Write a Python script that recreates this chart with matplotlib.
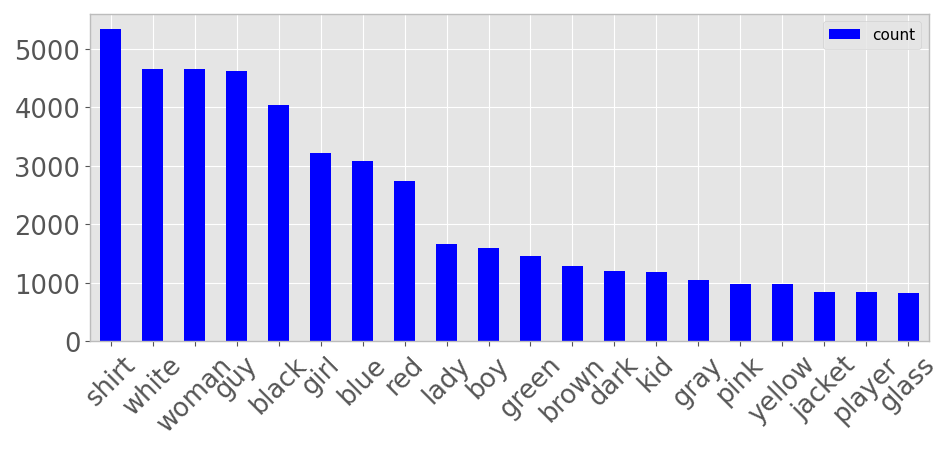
import matplotlib
matplotlib.use("Agg")
import matplotlib.pyplot as plt
import numpy as np

plt.style.use("ggplot")

words = ["shirt", "white", "woman", "guy", "black", "girl", "blue", "red", "lady", "boy",
         "green", "brown", "dark", "kid", "gray", "pink", "yellow", "jacket", "player", "glass"]
counts = [5347, 4651, 4651, 4628, 4036, 3215, 3084, 2747, 1670, 1596,
          1465, 1283, 1209, 1180, 1049, 975, 975, 849, 849, 821]

fig = plt.figure(figsize=(9.52, 4.52), dpi=100)
ax = fig.add_axes([90 / 952, 1 - 342.3 / 452, (929 - 90) / 952, (342.3 - 14.7) / 452])

x = np.arange(len(words))
ax.bar(x, counts, width=0.5, color="blue", label="count")
ax.set_xlim(-0.5, len(words) - 0.5)
ax.set_ylim(0, 5600)
ax.set_xticks(x)
ax.set_xticklabels(words, rotation=45, ha="center", fontsize=18.5, color="#555555")
ax.tick_params(axis="y", labelsize=18.5, labelcolor="#555555")
ax.set_yticks([0, 1000, 2000, 3000, 4000, 5000])
for s in ax.spines.values():
    s.set_visible(True)
    s.set_color("#bcbcbc")
    s.set_linewidth(1)
ax.legend(loc="upper right", fontsize=11)

fig.savefig("out.png", dpi=100)
